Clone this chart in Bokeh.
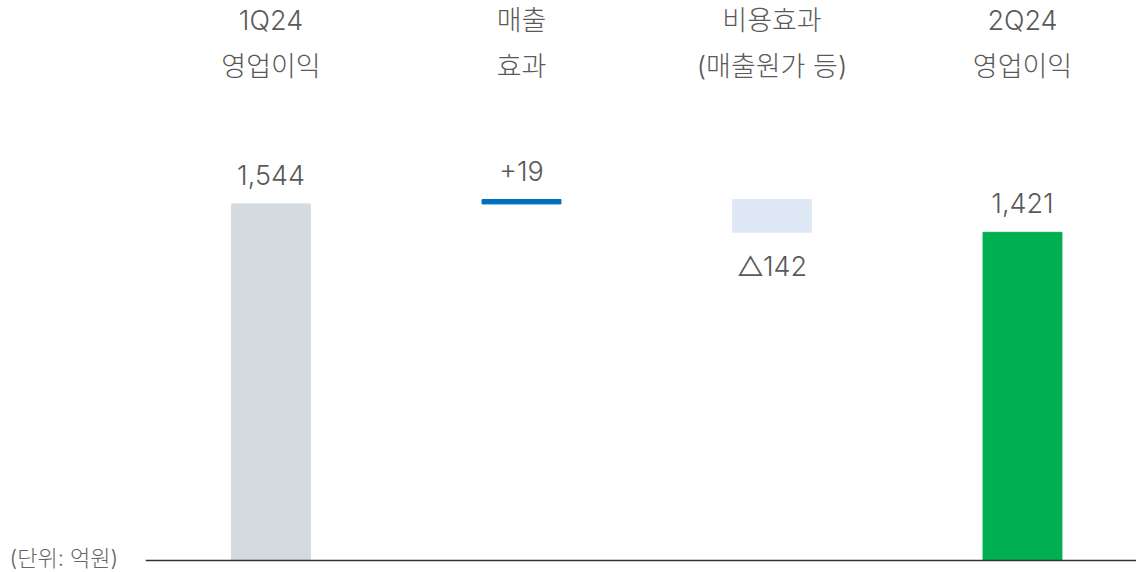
from bokeh.plotting import figure
from bokeh.models import ColumnDataSource, Range1d
from bokeh.core.properties import value
from bokeh.embed import file_html
from bokeh.resources import INLINE

# ---- data ----
head1 = ["1Q24", "매출", "비용효과", "2Q24"]
head2 = ["영업이익", "효과", "(매출원가 등)", "영업이익"]
start_q = 1544
sales_effect = 19
cost_effect = -142
end_q = 1421
value_labels = ["1,544", "+19", "△142", "1,421"]
unit_text = "(단위: 억원)"

# ---- derived waterfall ----
xs = [0, 1, 2, 3]
bottoms = [0, start_q, start_q + sales_effect + cost_effect, 0]
tops = [start_q, start_q + sales_effect, start_q + sales_effect, end_q]
colors = ["#D5DADF", "#0070C0", "#DEE9F5", "#00B050"]

W, H = 1136, 572
FONT = value("'Inter Light', 'Noto Sans CJK KR Light', 'Noto Sans CJK KR'")
TXT = "#595959"
FS = "27px"
SHIFT = -12  # empirical baseline correction of the svg text

p = figure(width=W, height=H, output_backend="svg", toolbar_location=None,
           min_border=0, outline_line_color=None, background_fill_color="white",
           border_fill_color="white")
x0, x1 = -1.0798, 3.4551
p.x_range = Range1d(x0, x1)
y0, y1 = -51.96, 2424.8
p.y_range = Range1d(y0, y1)
p.axis.visible = False
p.grid.visible = False

def ypx(px):
    return y1 - px * (y1 - y0) / H

src = ColumnDataSource(dict(x=xs, bottom=bottoms, top=tops, color=colors))
p.vbar(x="x", bottom="bottom", top="top", width=0.315, color="color", source=src)

# baseline
p.segment(x0=[-0.5], y0=[0], x1=[x1], y1=[0], line_color="#333333", line_width=1.5)

# value labels
up_idx = [0, 1, 3]
p.text(x=[xs[i] for i in up_idx], y=[tops[i] for i in up_idx],
       text=[value_labels[i] for i in up_idx], y_offset=-17 + SHIFT,
       text_align="center", text_baseline="alphabetic", text_font=FONT,
       text_font_size=FS, text_color=TXT)
p.text(x=[xs[2]], y=[bottoms[2]], text=[value_labels[2]], y_offset=46 + SHIFT,
       text_align="center", text_baseline="alphabetic", text_font=FONT,
       text_font_size=FS, text_color=TXT)

# headings
p.text(x=xs, y=[ypx(32)] * 4, text=head1, text_align="center", text_baseline="alphabetic",
       text_font=FONT, text_font_size=FS, text_color=TXT, y_offset=SHIFT)
p.text(x=xs, y=[ypx(78)] * 4, text=head2, text_align="center", text_baseline="alphabetic",
       text_font=FONT, text_font_size=FS, text_color=TXT, y_offset=SHIFT)

# unit
p.text(x=[x0], y=[0], text=[unit_text], x_offset=9, y_offset=-3,
       text_align="left", text_baseline="alphabetic", text_font=FONT,
       text_font_size="22px", text_color="#666666")

open("out.html", "w").write(file_html(p, INLINE))
